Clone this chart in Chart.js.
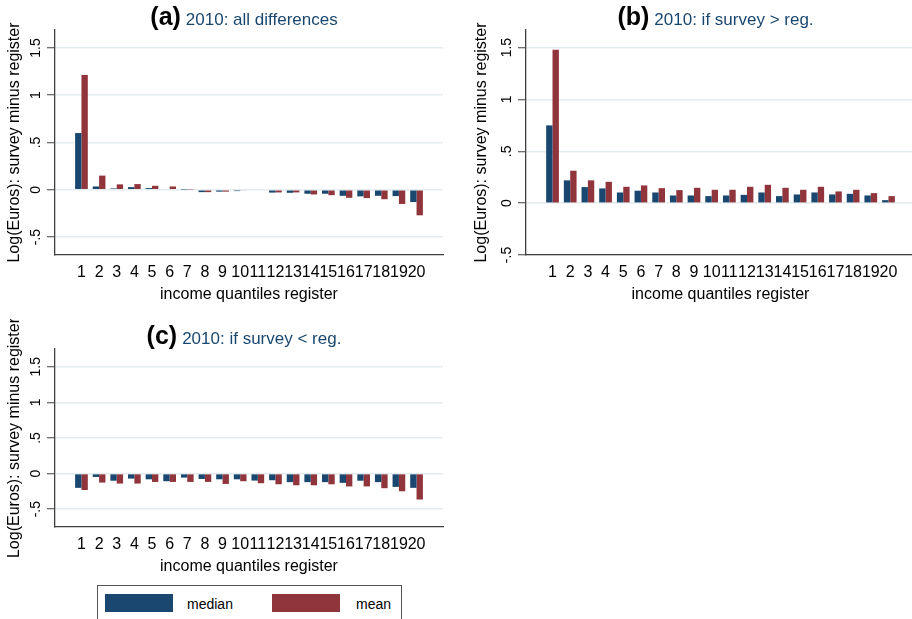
<!DOCTYPE html>
<html>
<head>
<meta charset="utf-8">
<script src="https://cdn.jsdelivr.net/npm/chart.js@4.4.1/dist/chart.umd.min.js"></script>
<style>
  html, body { margin: 0; padding: 0; background: #fff; width: 912px; height: 619px; overflow: hidden; }
  canvas { position: absolute; }
  #legend { position: absolute; left: 97px; top: 585px; width: 305px; height: 40px; border: 1px solid #555;
            box-sizing: border-box; font: 14px 'Liberation Sans', Arial, sans-serif; color: #000; }
  #legend .sw { position: absolute; top: 8px; width: 68px; height: 18px; }
  #legend .lb { position: absolute; top: 10px; line-height: 16px; }
</style>
</head>
<body>
<canvas id="chartA" width="450" height="310" style="left:0;top:0"></canvas>
<canvas id="chartB" width="462" height="310" style="left:455px;top:0"></canvas>
<canvas id="chartC" width="450" height="263" style="left:0;top:319px"></canvas>
<div id="legend">
  <div class="sw" style="left:7px;background:#1a476f"></div>
  <div class="lb" style="left:89px">median</div>
  <div class="sw" style="left:174px;background:#90353b"></div>
  <div class="lb" style="left:258px">mean</div>
</div>
<script>
// income quantiles (x categories)
const QUANTILES = [1, 2, 3, 4, 5, 6, 7, 8, 9, 10, 11, 12, 13, 14, 15, 16, 17, 18, 19, 20];

// (a) all differences
const A_MEDIAN = [0.60, 0.035, 0.014, 0.028, 0.018, 0.008, 0.003, -0.025, -0.02, -0.014,
                  -0.008, -0.03, -0.032, -0.042, -0.042, -0.064, -0.07, -0.064, -0.067, -0.13];
const A_MEAN = [1.215, 0.15, 0.057, 0.06, 0.042, 0.035, 0.004, -0.025, -0.02, -0.007,
                -0.008, -0.028, -0.028, -0.05, -0.057, -0.085, -0.088, -0.10, -0.15, -0.27];

// (b) survey > register
const B_MEDIAN = [0.75, 0.22, 0.155, 0.142, 0.103, 0.12, 0.103, 0.074, 0.074, 0.068,
                  0.074, 0.08, 0.103, 0.068, 0.084, 0.103, 0.084, 0.09, 0.074, 0.029];
const B_MEAN = [1.48, 0.313, 0.22, 0.206, 0.158, 0.171, 0.145, 0.126, 0.148, 0.129,
                0.129, 0.158, 0.177, 0.148, 0.129, 0.158, 0.113, 0.129, 0.097, 0.068];

// (c) survey < register
const C_MEDIAN = [-0.20, -0.047, -0.10, -0.07, -0.08, -0.107, -0.056, -0.075, -0.08, -0.08,
                  -0.098, -0.093, -0.12, -0.12, -0.12, -0.13, -0.10, -0.12, -0.187, -0.20];
const C_MEAN = [-0.23, -0.126, -0.14, -0.14, -0.117, -0.117, -0.117, -0.117, -0.145, -0.107,
                -0.135, -0.15, -0.164, -0.164, -0.15, -0.18, -0.18, -0.205, -0.248, -0.364];

const Y_TICKS = [-0.5, 0, 0.5, 1, 1.5];
const Y_TICK_LABELS = ['-.5', '0', '.5', '1', '1.5'];

const FAMILY = "'Liberation Sans', Arial, Helvetica, sans-serif";
const NAVY = '#1a476f';
const MAROON = '#90353b';
const AXIS = '#404040';
const GRID = '#e3ecef';

Chart.defaults.font.family = FAMILY;
Chart.defaults.color = '#000';

// "(a) 2010: ..." title drawn above the plot
const panelTitle = {
    id: 'panelTitle',
    afterDraw(chart, args, opts) {
        const { ctx, chartArea } = chart;
        ctx.save();
        ctx.textBaseline = 'alphabetic';
        ctx.font = 'bold 25px ' + FAMILY;
        const w1 = ctx.measureText(opts.letter).width;
        ctx.font = '17px ' + FAMILY;
        const w2 = ctx.measureText(opts.text).width;
        const gap = 5;
        let x = (chartArea.left + chartArea.right) / 2 - 5 - (w1 + gap + w2) / 2;
        ctx.font = 'bold 25px ' + FAMILY;
        ctx.fillStyle = '#000';
        ctx.fillText(opts.letter, x, 25);
        ctx.font = '17px ' + FAMILY;
        ctx.fillStyle = NAVY;
        ctx.fillText(opts.text, x + w1 + gap, 25);
        ctx.restore();
    }
};

function toPoints(values) {
    return QUANTILES.map((q, i) => ({ x: q, y: values[i] }));
}

function makePanel(id, p) {
    const ctx = document.getElementById(id).getContext('2d');
    return new Chart(ctx, {
        type: 'bar',
        data: {
            datasets: [
                { label: 'median', data: toPoints(p.median), backgroundColor: NAVY },
                { label: 'mean', data: toPoints(p.mean), backgroundColor: MAROON }
            ]
        },
        options: {
            responsive: false,
            animation: false,
            devicePixelRatio: 1,
            categoryPercentage: 0.72,
            barPercentage: 1.0,
            layout: { padding: { top: p.padTop, right: p.padRight, left: 0, bottom: 0 } },
            plugins: {
                legend: { display: false },
                tooltip: { enabled: false },
                panelTitle: { letter: p.letter, text: p.title }
            },
            scales: {
                x: {
                    type: 'linear',
                    offset: false,
                    min: -0.5,
                    max: 21.5,
                    afterBuildTicks: s => { s.ticks = QUANTILES.map(q => ({ value: q })); },
                    afterFit: s => { s.height = 55; },
                    grid: { display: false, offset: false, drawTicks: false },
                    border: { display: true, color: AXIS, width: 1.3 },
                    ticks: {
                        autoSkip: false, maxRotation: 0, minRotation: 0, padding: 8,
                        font: { size: 16 }, callback: v => String(v)
                    },
                    title: {
                        display: true, text: 'income quantiles register',
                        font: { size: 16 }, padding: { top: 0, bottom: 6 }
                    }
                },
                y: {
                    min: p.yMin,
                    max: p.yMax,
                    afterBuildTicks: s => { s.ticks = Y_TICKS.map(v => ({ value: v })); },
                    afterFit: s => { s.width = p.yWidth; },
                    grid: { color: GRID, lineWidth: 1.5, tickLength: 8, tickColor: AXIS, tickWidth: 1 },
                    border: { display: true, color: AXIS, width: 1.3 },
                    ticks: {
                        minRotation: 90, maxRotation: 90, crossAlign: 'center', padding: 1,
                        font: { size: 14 }, callback: (v, i) => Y_TICK_LABELS[i]
                    },
                    title: {
                        display: true, text: 'Log(Euros): survey minus register',
                        font: { size: 16 }, padding: { top: p.yTitlePad, bottom: 0 }
                    }
                }
            }
        },
        plugins: [panelTitle]
    });
}

makePanel('chartA', {
    median: A_MEDIAN, mean: A_MEAN, letter: '(a)', title: '2010: all differences',
    yMin: -0.69, yMax: 1.69, padTop: 30, padRight: 7, yWidth: 55, yTitlePad: 5
});
makePanel('chartB', {
    median: B_MEDIAN, mean: B_MEAN, letter: '(b)', title: '2010: if survey > reg.',
    yMin: -0.5, yMax: 1.67, padTop: 30, padRight: 2, yWidth: 71, yTitlePad: 17
});
makePanel('chartC', {
    median: C_MEDIAN, mean: C_MEAN, letter: '(c)', title: '2010: if survey < reg.',
    yMin: -0.75, yMax: 1.75, padTop: 30, padRight: 7, yWidth: 55, yTitlePad: 5
});
</script>
</body>
</html>
